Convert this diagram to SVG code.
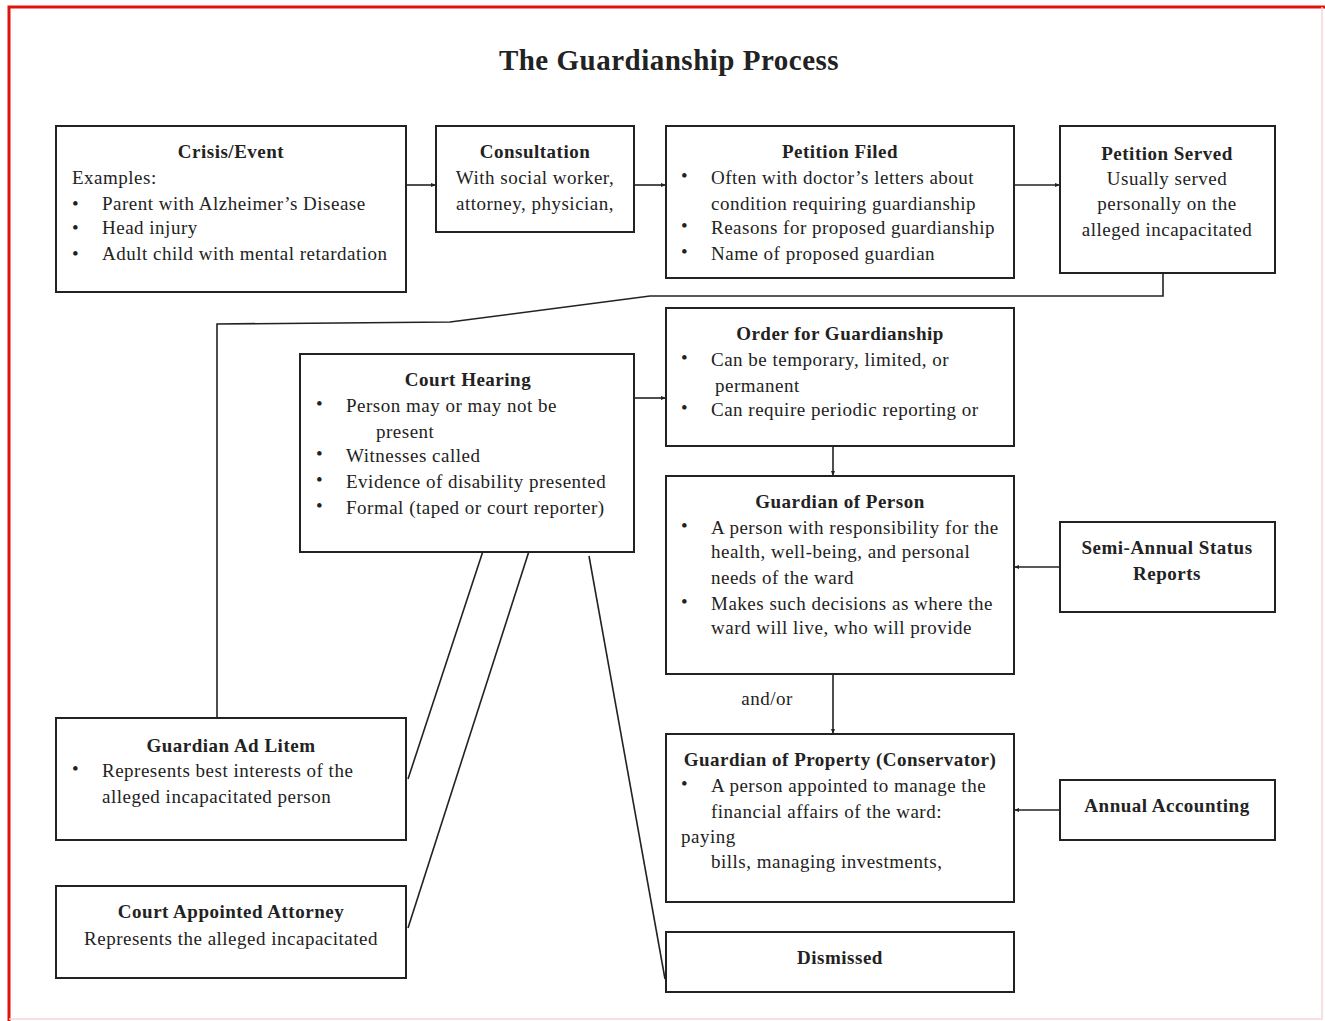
<svg xmlns="http://www.w3.org/2000/svg" width="1325" height="1021" viewBox="0 0 1325 1021">
<defs>
<marker id="ah" viewBox="0 0 10 10" refX="10" refY="5" markerWidth="5" markerHeight="5" orient="auto" markerUnits="userSpaceOnUse">
<path d="M0,1 L10,5 L0,9 z" fill="#222"/>
</marker>
<style>
.box{fill:#fff;stroke:#222;stroke-width:2}
text{font-family:"Liberation Serif","Times New Roman",serif;font-size:19px;letter-spacing:0.5px;fill:#222}
.t{font-weight:bold}
.c{text-anchor:middle}
.ln{fill:none;stroke:#222;stroke-width:1.6}
</style>
</defs>
<rect x="0" y="0" width="1325" height="1021" fill="#fff"/>
<path d="M9,1021 L9,7 L1325,7" fill="none" stroke="#e0120f" stroke-width="3"/>
<path d="M1322,7 L1322,1019 L9,1019" fill="none" stroke="#f6d6d6" stroke-width="1.5"/>
<text x="669" y="70" class="t c" style="font-size:29px">The Guardianship Process</text>

<g id="connectors">
<line class="ln" x1="406" y1="185" x2="436" y2="185" marker-end="url(#ah)"/>
<line class="ln" x1="634" y1="185" x2="666" y2="185" marker-end="url(#ah)"/>
<line class="ln" x1="1014" y1="185" x2="1060" y2="185" marker-end="url(#ah)"/>
<polyline class="ln" points="1163,274 1163,296 650,296 450,322 217,324 217,718"/>
<line class="ln" x1="634" y1="398" x2="666" y2="398" marker-end="url(#ah)"/>
<line class="ln" x1="833" y1="446" x2="833" y2="476" marker-end="url(#ah)"/>
<line class="ln" x1="833" y1="674" x2="833" y2="734" marker-end="url(#ah)"/>
<line class="ln" x1="1060" y1="567" x2="1014" y2="567" marker-end="url(#ah)"/>
<line class="ln" x1="1060" y1="810" x2="1014" y2="810" marker-end="url(#ah)"/>
<line class="ln" x1="408" y1="779" x2="484" y2="548" marker-end="url(#ah)"/>
<line class="ln" x1="408" y1="928" x2="530" y2="548" marker-end="url(#ah)"/>
<line class="ln" x1="589" y1="556" x2="665" y2="979"/>
</g>

<g id="crisis">
<rect class="box" x="56" y="126" width="350" height="166"/>
<text x="231" y="158" class="t c">Crisis/Event</text>
<text x="72" y="184">Examples:</text>
<text x="72" y="210">•</text><text x="102" y="210">Parent with Alzheimer’s Disease</text>
<text x="72" y="234">•</text><text x="102" y="234">Head injury</text>
<text x="72" y="260">•</text><text x="102" y="260">Adult child with mental retardation</text>
</g>

<g id="consultation">
<rect class="box" x="436" y="126" width="198" height="106"/>
<text x="535" y="158" class="t c">Consultation</text>
<text x="535" y="184" class="c">With social worker,</text>
<text x="535" y="210" class="c">attorney, physician,</text>
</g>

<g id="petition-filed">
<rect class="box" x="666" y="126" width="348" height="152"/>
<text x="840" y="158" class="t c">Petition Filed</text>
<text x="681" y="182">•</text><text x="711" y="184">Often with doctor’s letters about</text>
<text x="711" y="210">condition requiring guardianship</text>
<text x="681" y="232">•</text><text x="711" y="234">Reasons for proposed guardianship</text>
<text x="681" y="258">•</text><text x="711" y="260">Name of proposed guardian</text>
</g>

<g id="petition-served">
<rect class="box" x="1060" y="126" width="215" height="147"/>
<text x="1167" y="160" class="t c">Petition Served</text>
<text x="1167" y="185" class="c">Usually served</text>
<text x="1167" y="210" class="c">personally on the</text>
<text x="1167" y="236" class="c">alleged incapacitated</text>
</g>

<g id="order">
<rect class="box" x="666" y="308" width="348" height="138"/>
<text x="840" y="340" class="t c">Order for Guardianship</text>
<text x="681" y="364">•</text><text x="711" y="366">Can be temporary, limited, or</text>
<text x="715" y="392">permanent</text>
<text x="681" y="414">•</text><text x="711" y="416">Can require periodic reporting or</text>
</g>

<g id="court-hearing">
<rect class="box" x="300" y="354" width="334" height="198"/>
<text x="468" y="386" class="t c">Court Hearing</text>
<text x="316" y="410">•</text><text x="346" y="412">Person may or may not be</text>
<text x="376" y="438">present</text>
<text x="316" y="460">•</text><text x="346" y="462">Witnesses called</text>
<text x="316" y="486">•</text><text x="346" y="488">Evidence of disability presented</text>
<text x="316" y="512">•</text><text x="346" y="514">Formal (taped or court reporter)</text>
</g>

<g id="guardian-person">
<rect class="box" x="666" y="476" width="348" height="198"/>
<text x="840" y="508" class="t c">Guardian of Person</text>
<text x="681" y="532">•</text><text x="711" y="534">A person with responsibility for the</text>
<text x="711" y="558">health, well-being, and personal</text>
<text x="711" y="584">needs of the ward</text>
<text x="681" y="608">•</text><text x="711" y="610">Makes such decisions as where the</text>
<text x="711" y="634">ward will live, who will provide</text>
</g>

<g id="semi-annual">
<rect class="box" x="1060" y="522" width="215" height="90"/>
<text x="1167" y="554" class="t c">Semi-Annual Status</text>
<text x="1167" y="580" class="t c">Reports</text>
</g>

<text x="767" y="705" class="c">and/or</text>

<g id="guardian-property">
<rect class="box" x="666" y="734" width="348" height="168"/>
<text x="840" y="766" class="t c">Guardian of Property (Conservator)</text>
<text x="681" y="790">•</text><text x="711" y="792">A person appointed to manage the</text>
<text x="711" y="818">financial affairs of the ward:</text>
<text x="681" y="843">paying</text>
<text x="711" y="868">bills, managing investments,</text>
</g>

<g id="annual-accounting">
<rect class="box" x="1060" y="780" width="215" height="60"/>
<text x="1167" y="812" class="t c">Annual Accounting</text>
</g>

<g id="dismissed">
<rect class="box" x="666" y="932" width="348" height="60"/>
<text x="840" y="964" class="t c">Dismissed</text>
</g>

<g id="ad-litem">
<rect class="box" x="56" y="718" width="350" height="122"/>
<text x="231" y="752" class="t c">Guardian Ad Litem</text>
<text x="72" y="775">•</text><text x="102" y="777">Represents best interests of the</text>
<text x="102" y="803">alleged incapacitated person</text>
</g>

<g id="attorney">
<rect class="box" x="56" y="886" width="350" height="92"/>
<text x="231" y="918" class="t c">Court Appointed Attorney</text>
<text x="231" y="945" class="c">Represents the alleged incapacitated</text>
</g>
</svg>
